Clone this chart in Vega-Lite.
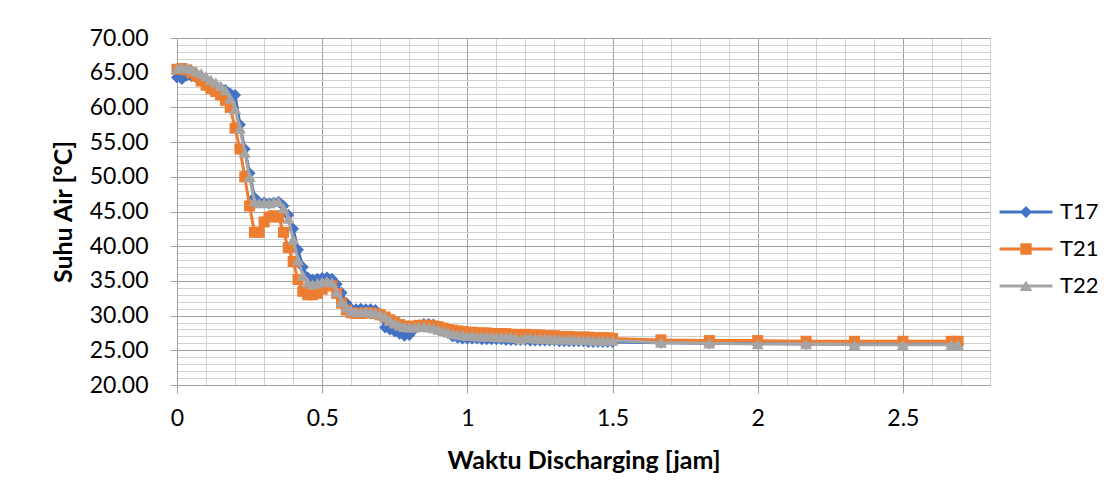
{
  "$schema": "https://vega.github.io/schema/vega-lite/v6.json",
  "width": 813,
  "height": 347,
  "autosize": {"type": "none"},
  "padding": {"left": 177, "top": 38, "right": 114, "bottom": 98},
  "background": "white",
  "config": {"view": {"stroke": null}, "font": "Lato"},
  "data": {
    "values": [
      {"t": 0, "T17": 64.3, "T21": 65.5, "T22": 65.6},
      {"t": 0.0167, "T17": 64.1, "T21": 65.6, "T22": 65.8},
      {"t": 0.0333, "T17": 64.6, "T21": 65.4, "T22": 65.7},
      {"t": 0.05, "T17": 64.5, "T21": 65.0, "T22": 65.5},
      {"t": 0.0667, "T17": 64.3, "T21": 64.5, "T22": 65.2},
      {"t": 0.0833, "T17": 64.0, "T21": 63.8, "T22": 64.9},
      {"t": 0.1, "T17": 63.7, "T21": 63.2, "T22": 64.5},
      {"t": 0.1167, "T17": 63.4, "T21": 62.7, "T22": 64.0},
      {"t": 0.1333, "T17": 63.1, "T21": 62.3, "T22": 63.6},
      {"t": 0.15, "T17": 62.8, "T21": 61.8, "T22": 63.1},
      {"t": 0.1667, "T17": 62.5, "T21": 61.0, "T22": 62.5},
      {"t": 0.1833, "T17": 62.0, "T21": 60.0, "T22": 61.3},
      {"t": 0.2, "T17": 61.8, "T21": 57.0, "T22": 59.8},
      {"t": 0.2167, "T17": 57.5, "T21": 54.0, "T22": 57.0},
      {"t": 0.2333, "T17": 54.0, "T21": 50.0, "T22": 53.5},
      {"t": 0.25, "T17": 50.5, "T21": 45.8, "T22": 50.0},
      {"t": 0.2667, "T17": 47.0, "T21": 42.0, "T22": 46.5},
      {"t": 0.2833, "T17": 46.3, "T21": 42.0, "T22": 46.2},
      {"t": 0.3, "T17": 46.3, "T21": 43.5, "T22": 46.3},
      {"t": 0.3167, "T17": 46.2, "T21": 44.2, "T22": 46.2},
      {"t": 0.3333, "T17": 46.3, "T21": 44.4, "T22": 46.4},
      {"t": 0.35, "T17": 46.4, "T21": 44.2, "T22": 46.4},
      {"t": 0.3667, "T17": 45.8, "T21": 42.0, "T22": 45.5},
      {"t": 0.3833, "T17": 44.5, "T21": 39.8, "T22": 44.0},
      {"t": 0.4, "T17": 42.5, "T21": 37.8, "T22": 41.0},
      {"t": 0.4167, "T17": 39.5, "T21": 35.2, "T22": 38.0},
      {"t": 0.4333, "T17": 37.0, "T21": 33.5, "T22": 35.8},
      {"t": 0.45, "T17": 35.5, "T21": 33.0, "T22": 34.8},
      {"t": 0.4667, "T17": 35.2, "T21": 33.0, "T22": 34.5},
      {"t": 0.4833, "T17": 35.3, "T21": 33.2, "T22": 34.7},
      {"t": 0.5, "T17": 35.4, "T21": 33.8, "T22": 34.9},
      {"t": 0.5167, "T17": 35.5, "T21": 34.3, "T22": 35.0},
      {"t": 0.5333, "T17": 35.3, "T21": 34.3, "T22": 34.8},
      {"t": 0.55, "T17": 34.5, "T21": 33.2, "T22": 33.4},
      {"t": 0.5667, "T17": 33.3, "T21": 31.8, "T22": 32.0},
      {"t": 0.5833, "T17": 31.8, "T21": 30.8, "T22": 31.2},
      {"t": 0.6, "T17": 31.0, "T21": 30.4, "T22": 30.7},
      {"t": 0.6167, "T17": 30.9, "T21": 30.3, "T22": 30.5},
      {"t": 0.6333, "T17": 31.0, "T21": 30.3, "T22": 30.5},
      {"t": 0.65, "T17": 30.9, "T21": 30.4, "T22": 30.6},
      {"t": 0.6667, "T17": 30.9, "T21": 30.4, "T22": 30.5},
      {"t": 0.6833, "T17": 30.8, "T21": 30.3, "T22": 30.4},
      {"t": 0.7, "T17": 30.3, "T21": 30.1, "T22": 30.2},
      {"t": 0.7167, "T17": 28.3, "T21": 29.8, "T22": 29.8},
      {"t": 0.7333, "T17": 28.0, "T21": 29.4, "T22": 29.3},
      {"t": 0.75, "T17": 27.7, "T21": 29.0, "T22": 28.9},
      {"t": 0.7667, "T17": 27.4, "T21": 28.7, "T22": 28.6},
      {"t": 0.7833, "T17": 27.1, "T21": 28.5, "T22": 28.4},
      {"t": 0.8, "T17": 27.2, "T21": 28.4, "T22": 28.3},
      {"t": 0.8167, "T17": 28.0, "T21": 28.5, "T22": 28.3},
      {"t": 0.8333, "T17": 28.6, "T21": 28.6, "T22": 28.4},
      {"t": 0.85, "T17": 28.8, "T21": 28.6, "T22": 28.4},
      {"t": 0.8667, "T17": 28.8, "T21": 28.6, "T22": 28.3},
      {"t": 0.8833, "T17": 28.7, "T21": 28.5, "T22": 28.2},
      {"t": 0.9, "T17": 28.4, "T21": 28.4, "T22": 28.0},
      {"t": 0.9167, "T17": 28.0, "T21": 28.2, "T22": 27.8},
      {"t": 0.9333, "T17": 27.5, "T21": 28.0, "T22": 27.6},
      {"t": 0.95, "T17": 27.0, "T21": 27.9, "T22": 27.4},
      {"t": 0.9667, "T17": 26.8, "T21": 27.8, "T22": 27.3},
      {"t": 0.9833, "T17": 26.7, "T21": 27.7, "T22": 27.2},
      {"t": 1, "T17": 26.7, "T21": 27.6, "T22": 27.1},
      {"t": 1.0167, "T17": 26.7, "T21": 27.6, "T22": 27.1},
      {"t": 1.0333, "T17": 26.7, "T21": 27.5, "T22": 27.0},
      {"t": 1.05, "T17": 26.6, "T21": 27.5, "T22": 27.0},
      {"t": 1.0667, "T17": 26.6, "T21": 27.5, "T22": 27.0},
      {"t": 1.0833, "T17": 26.6, "T21": 27.4, "T22": 27.0},
      {"t": 1.1, "T17": 26.6, "T21": 27.4, "T22": 26.9},
      {"t": 1.1167, "T17": 26.6, "T21": 27.4, "T22": 26.9},
      {"t": 1.1333, "T17": 26.5, "T21": 27.4, "T22": 26.9},
      {"t": 1.15, "T17": 26.5, "T21": 27.3, "T22": 26.9},
      {"t": 1.1667, "T17": 26.5, "T21": 27.3, "T22": 26.8},
      {"t": 1.1833, "T17": 26.5, "T21": 26.8, "T22": 26.6},
      {"t": 1.2, "T17": 26.5, "T21": 27.3, "T22": 26.8},
      {"t": 1.2167, "T17": 26.4, "T21": 27.2, "T22": 26.8},
      {"t": 1.2333, "T17": 26.4, "T21": 27.2, "T22": 26.7},
      {"t": 1.25, "T17": 26.4, "T21": 27.2, "T22": 26.7},
      {"t": 1.2667, "T17": 26.4, "T21": 27.1, "T22": 26.7},
      {"t": 1.2833, "T17": 26.4, "T21": 27.1, "T22": 26.7},
      {"t": 1.3, "T17": 26.4, "T21": 27.1, "T22": 26.6},
      {"t": 1.3167, "T17": 26.3, "T21": 27.0, "T22": 26.6},
      {"t": 1.3333, "T17": 26.3, "T21": 27.0, "T22": 26.6},
      {"t": 1.35, "T17": 26.3, "T21": 27.0, "T22": 26.6},
      {"t": 1.3667, "T17": 26.3, "T21": 26.9, "T22": 26.5},
      {"t": 1.3833, "T17": 26.3, "T21": 26.9, "T22": 26.5},
      {"t": 1.4, "T17": 26.3, "T21": 26.9, "T22": 26.5},
      {"t": 1.4167, "T17": 26.2, "T21": 26.9, "T22": 26.5},
      {"t": 1.4333, "T17": 26.2, "T21": 26.8, "T22": 26.4},
      {"t": 1.45, "T17": 26.2, "T21": 26.8, "T22": 26.4},
      {"t": 1.4667, "T17": 26.2, "T21": 26.8, "T22": 26.4},
      {"t": 1.4833, "T17": 26.2, "T21": 26.8, "T22": 26.4},
      {"t": 1.5, "T17": 26.2, "T21": 26.7, "T22": 26.4},
      {"t": 1.6667, "T17": 26.1, "T21": 26.5, "T22": 26.1},
      {"t": 1.8333, "T17": 26.0, "T21": 26.4, "T22": 26.0},
      {"t": 2, "T17": 26.0, "T21": 26.4, "T22": 25.9},
      {"t": 2.1667, "T17": 25.9, "T21": 26.3, "T22": 25.9},
      {"t": 2.3333, "T17": 25.9, "T21": 26.3, "T22": 25.8},
      {"t": 2.5, "T17": 25.9, "T21": 26.3, "T22": 25.8},
      {"t": 2.6667, "T17": 25.9, "T21": 26.3, "T22": 25.8},
      {"t": 2.69, "T17": 25.9, "T21": 26.3, "T22": 25.8}
    ]
  },
  "transform": [{"fold": ["T17", "T21", "T22"], "as": ["series", "temp"]}],
  "encoding": {
    "x": {
      "field": "t",
      "type": "quantitative",
      "scale": {"domain": [0, 2.8], "nice": false, "zero": false},
      "axis": {
        "title": "Waktu Discharging [jam]",
        "titleFont": "Lato",
        "titleFontSize": 25,
        "titleFontWeight": "bold",
        "titleColor": "#000000",
        "titlePadding": 18,
        "values": [0, 0.1, 0.2, 0.3, 0.4, 0.5, 0.6, 0.7, 0.8, 0.9, 1, 1.1, 1.2, 1.3, 1.4, 1.5, 1.6, 1.7, 1.8, 1.9, 2, 2.1, 2.2, 2.3, 2.4, 2.5, 2.6, 2.7, 2.8],
        "labelExpr": "round(datum.value * 10) % 5 === 0 ? format(datum.value, '~g') : ''",
        "labelFont": "Lato",
        "labelFontSize": 23,
        "labelColor": "#000000",
        "labelPadding": 14,
        "labelFlush": false,
        "labelOverlap": false,
        "grid": true,
        "gridColor": {"condition": {"test": "round(datum.value * 10) % 5 === 0", "value": "#a0a0a0"}, "value": "#d0d0d0"},
        "gridWidth": 1,
        "tickColor": "#a0a0a0",
        "tickSize": 8,
        "tickOpacity": {"condition": {"test": "round(datum.value * 10) % 5 === 0", "value": 1}, "value": 0},
        "domainColor": "#a0a0a0",
        "domainWidth": 1
      }
    },
    "y": {
      "field": "temp",
      "type": "quantitative",
      "scale": {"domain": [20, 70], "nice": false, "zero": false},
      "axis": {
        "title": "Suhu Air [°C]",
        "titleFont": "Lato",
        "titleFontSize": 25,
        "titleFontWeight": "bold",
        "titleColor": "#000000",
        "titlePadding": 13,
        "values": [20, 21, 22, 23, 24, 25, 26, 27, 28, 29, 30, 31, 32, 33, 34, 35, 36, 37, 38, 39, 40, 41, 42, 43, 44, 45, 46, 47, 48, 49, 50, 51, 52, 53, 54, 55, 56, 57, 58, 59, 60, 61, 62, 63, 64, 65, 66, 67, 68, 69, 70],
        "labelExpr": "datum.value % 5 === 0 ? format(datum.value, '.2f') : ''",
        "labelFont": "Lato",
        "labelFontSize": 23,
        "labelColor": "#000000",
        "labelPadding": 22,
        "labelOverlap": false,
        "grid": true,
        "gridColor": {"condition": {"test": "datum.value % 5 === 0", "value": "#a0a0a0"}, "value": "#d0d0d0"},
        "gridWidth": 1,
        "tickColor": "#a0a0a0",
        "tickSize": 7,
        "tickOpacity": {"condition": {"test": "datum.value % 5 === 0", "value": 1}, "value": 0},
        "domainColor": "#a0a0a0",
        "domainWidth": 1
      }
    },
    "color": {
      "field": "series",
      "type": "nominal",
      "scale": {"domain": ["T17", "T21", "T22"], "range": ["#4472C4", "#ED7D31", "#A5A5A5"]},
      "legend": {
        "orient": "none",
        "legendX": 838,
        "legendY": 163,
        "title": null,
        "padding": 0,
        "labelFont": "Lato",
        "labelFontSize": 22,
        "labelColor": "#000000",
        "symbolSize": 144,
        "labelOffset": 23,
        "rowPadding": 15,
        "encoding": {
          "symbols": {
            "shape": {"value": {"signal": "datum.value === 'T17' ? 'M-4.4,-0.25H4.4V0.25H-4.4Z M0,-1L1,0L0,1L-1,0Z' : datum.value === 'T21' ? 'M-4.4,-0.25H4.4V0.25H-4.4Z M-0.95,-0.95H0.95V0.95H-0.95Z' : 'M-4.4,-0.25H4.4V0.25H-4.4Z M0,-0.9L1.05,0.85H-1.05Z'"}},
            "fill": {"value": {"signal": "scale('color', datum.value)"}},
            "stroke": {"value": "transparent"},
            "strokeWidth": {"value": 0},
            "opacity": {"value": 1},
            "fillOpacity": {"value": 1}
          }
        }
      }
    }
  },
  "layer": [
    {"transform": [{"filter": "datum.series === 'T17'"}], "mark": {"type": "line", "strokeWidth": 3}},
    {"transform": [{"filter": "datum.series === 'T17'"}], "mark": {"type": "point", "shape": "diamond", "filled": true, "size": 144, "opacity": 1}},
    {"transform": [{"filter": "datum.series === 'T21'"}], "mark": {"type": "line", "strokeWidth": 3}},
    {"transform": [{"filter": "datum.series === 'T21'"}], "mark": {"type": "point", "shape": "square", "filled": true, "size": 121, "opacity": 1}},
    {"transform": [{"filter": "datum.series === 'T22'"}], "mark": {"type": "line", "strokeWidth": 3}},
    {"transform": [{"filter": "datum.series === 'T22'"}], "mark": {"type": "point", "shape": "triangle-up", "filled": true, "size": 144, "opacity": 1}}
  ]
}
